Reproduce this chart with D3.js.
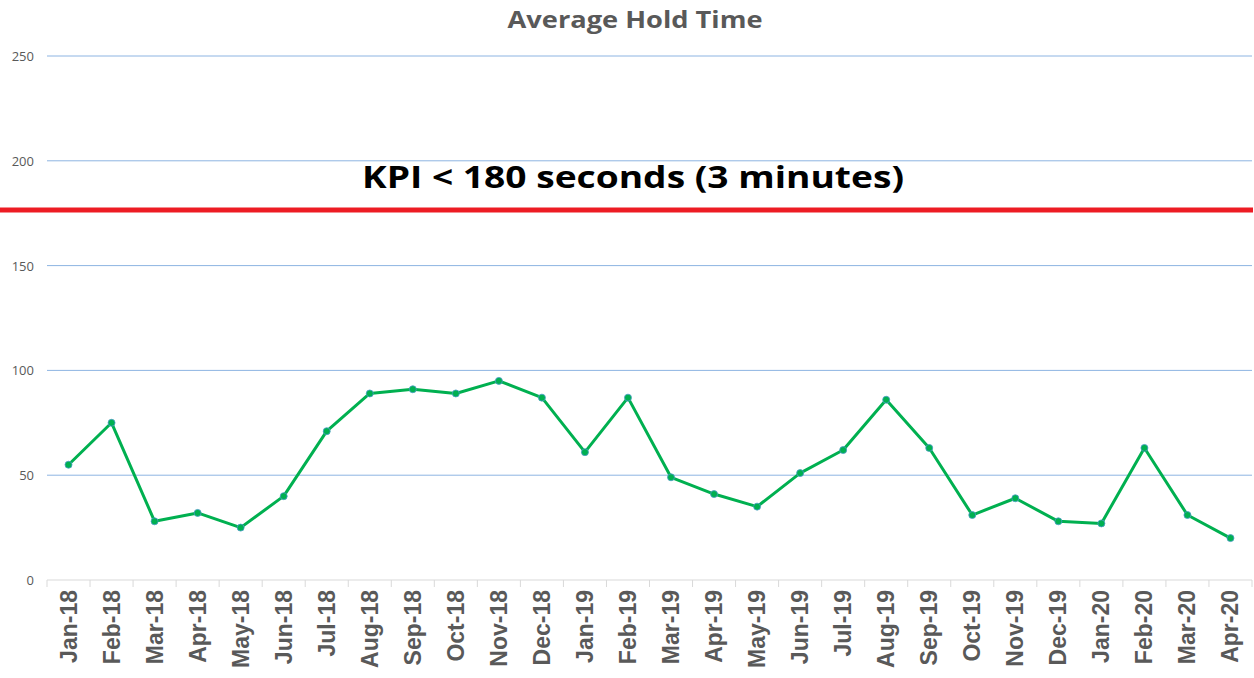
<!DOCTYPE html>
<html>
<head>
<meta charset="utf-8">
<script src="https://cdn.jsdelivr.net/npm/d3@7"></script>
<style>
  body { margin: 0; background: #fff; }
  svg { display: block; }
</style>
</head>
<body>
<div id="chart"></div>
<script>
// months shown on the x axis
var months = ["Jan-18","Feb-18","Mar-18","Apr-18","May-18","Jun-18","Jul-18","Aug-18","Sep-18","Oct-18",
  "Nov-18","Dec-18","Jan-19","Feb-19","Mar-19","Apr-19","May-19","Jun-19","Jul-19","Aug-19",
  "Sep-19","Oct-19","Nov-19","Dec-19","Jan-20","Feb-20","Mar-20","Apr-20"];
// average hold time in seconds
var holdTime = [55, 75, 28, 32, 25, 40, 71, 89, 91, 89,
  95, 87, 61, 87, 49, 41, 35, 51, 62, 86,
  63, 31, 39, 28, 27, 63, 31, 20];
var yTicks = [0, 50, 100, 150, 200, 250];
// where the red kpi line sits on the drawing
var kpiValue = 176.5;
var kpiLabel = "KPI < 180 seconds (3 minutes)";

var width = 1254, height = 678;
var plotLeft = 47, plotRight = 1252, plotTop = 56, plotBottom = 580;

var svg = d3.select('#chart').append('svg')
    .attr('width', width)
    .attr('height', height);

var x = d3.scaleBand().domain(months).range([plotLeft, plotRight]);
var y = d3.scaleLinear().domain([0, 250]).range([plotBottom, plotTop]);

// horizontal grid lines
svg.append('g').selectAll('line')
    .data(yTicks.filter(function(d) { return d > 0; }))
    .enter().append('line')
    .attr('x1', plotLeft).attr('x2', plotRight)
    .attr('y1', function(d) { return y(d); })
    .attr('y2', function(d) { return y(d); })
    .attr('stroke', '#8db4e2')
    .attr('stroke-width', 1);

// y labels
svg.append('g').selectAll('text')
    .data(yTicks)
    .enter().append('text')
    .attr('x', 34)
    .attr('y', function(d) { return y(d) + 5; })
    .attr('text-anchor', 'end')
    .attr('font-family', 'Open Sans, sans-serif')
    .attr('font-size', 13)
    .attr('fill', '#595959')
    .text(function(d) { return d; });

// x axis base line and tick marks between categories
svg.append('line')
    .attr('x1', plotLeft).attr('x2', plotRight)
    .attr('y1', plotBottom).attr('y2', plotBottom)
    .attr('stroke', '#d9d9d9').attr('stroke-width', 1);

var bounds = months.map(function(m) { return x(m); }).concat([plotRight]);
svg.append('g').selectAll('line')
    .data(bounds)
    .enter().append('line')
    .attr('x1', function(d) { return d; })
    .attr('x2', function(d) { return d; })
    .attr('y1', plotBottom).attr('y2', plotBottom + 7)
    .attr('stroke', '#d9d9d9').attr('stroke-width', 1);

// rotated month labels
svg.append('g').selectAll('text')
    .data(months)
    .enter().append('text')
    .attr('transform', function(d) {
        return 'translate(' + (x(d) + x.bandwidth() / 2 + 8) + ',' + (plotBottom + 10) + ') rotate(-90)';
    })
    .attr('text-anchor', 'end')
    .attr('font-family', 'Liberation Sans, Arial, sans-serif')
    .attr('font-weight', 'bold')
    .attr('font-size', 23)
    .attr('fill', '#595959')
    .text(function(d) { return d; });

// kpi line
svg.append('line')
    .attr('x1', 0).attr('x2', width - 1)
    .attr('y1', y(kpiValue)).attr('y2', y(kpiValue))
    .attr('stroke', '#ed1c24')
    .attr('stroke-width', 5);

svg.append('text')
    .attr('x', 633)
    .attr('y', 188)
    .attr('text-anchor', 'middle')
    .attr('font-family', 'Open Sans, sans-serif')
    .attr('font-weight', 'bold')
    .attr('font-size', 31)
    .attr('fill', '#000')
    .attr('textLength', 542)
    .attr('lengthAdjust', 'spacingAndGlyphs')
    .text(kpiLabel);

// the series
var line = d3.line()
    .x(function(d, i) { return x(months[i]) + x.bandwidth() / 2; })
    .y(function(d) { return y(d); });

svg.append('path')
    .datum(holdTime)
    .attr('d', line)
    .attr('fill', 'none')
    .attr('stroke', '#00b050')
    .attr('stroke-width', 3)
    .attr('stroke-linejoin', 'round');

svg.append('g').selectAll('circle')
    .data(holdTime)
    .enter().append('circle')
    .attr('cx', function(d, i) { return x(months[i]) + x.bandwidth() / 2; })
    .attr('cy', function(d) { return y(d); })
    .attr('r', 3.5)
    .attr('fill', '#00b050')
    .attr('stroke', '#4a9cc8')
    .attr('stroke-width', 0.8);

// title
svg.append('text')
    .attr('x', 635)
    .attr('y', 28)
    .attr('text-anchor', 'middle')
    .attr('font-family', 'Open Sans, sans-serif')
    .attr('font-weight', 'bold')
    .attr('font-size', 24)
    .attr('fill', '#595959')
    .attr('textLength', 255)
    .attr('lengthAdjust', 'spacingAndGlyphs')
    .text('Average Hold Time');
</script>
</body>
</html>
